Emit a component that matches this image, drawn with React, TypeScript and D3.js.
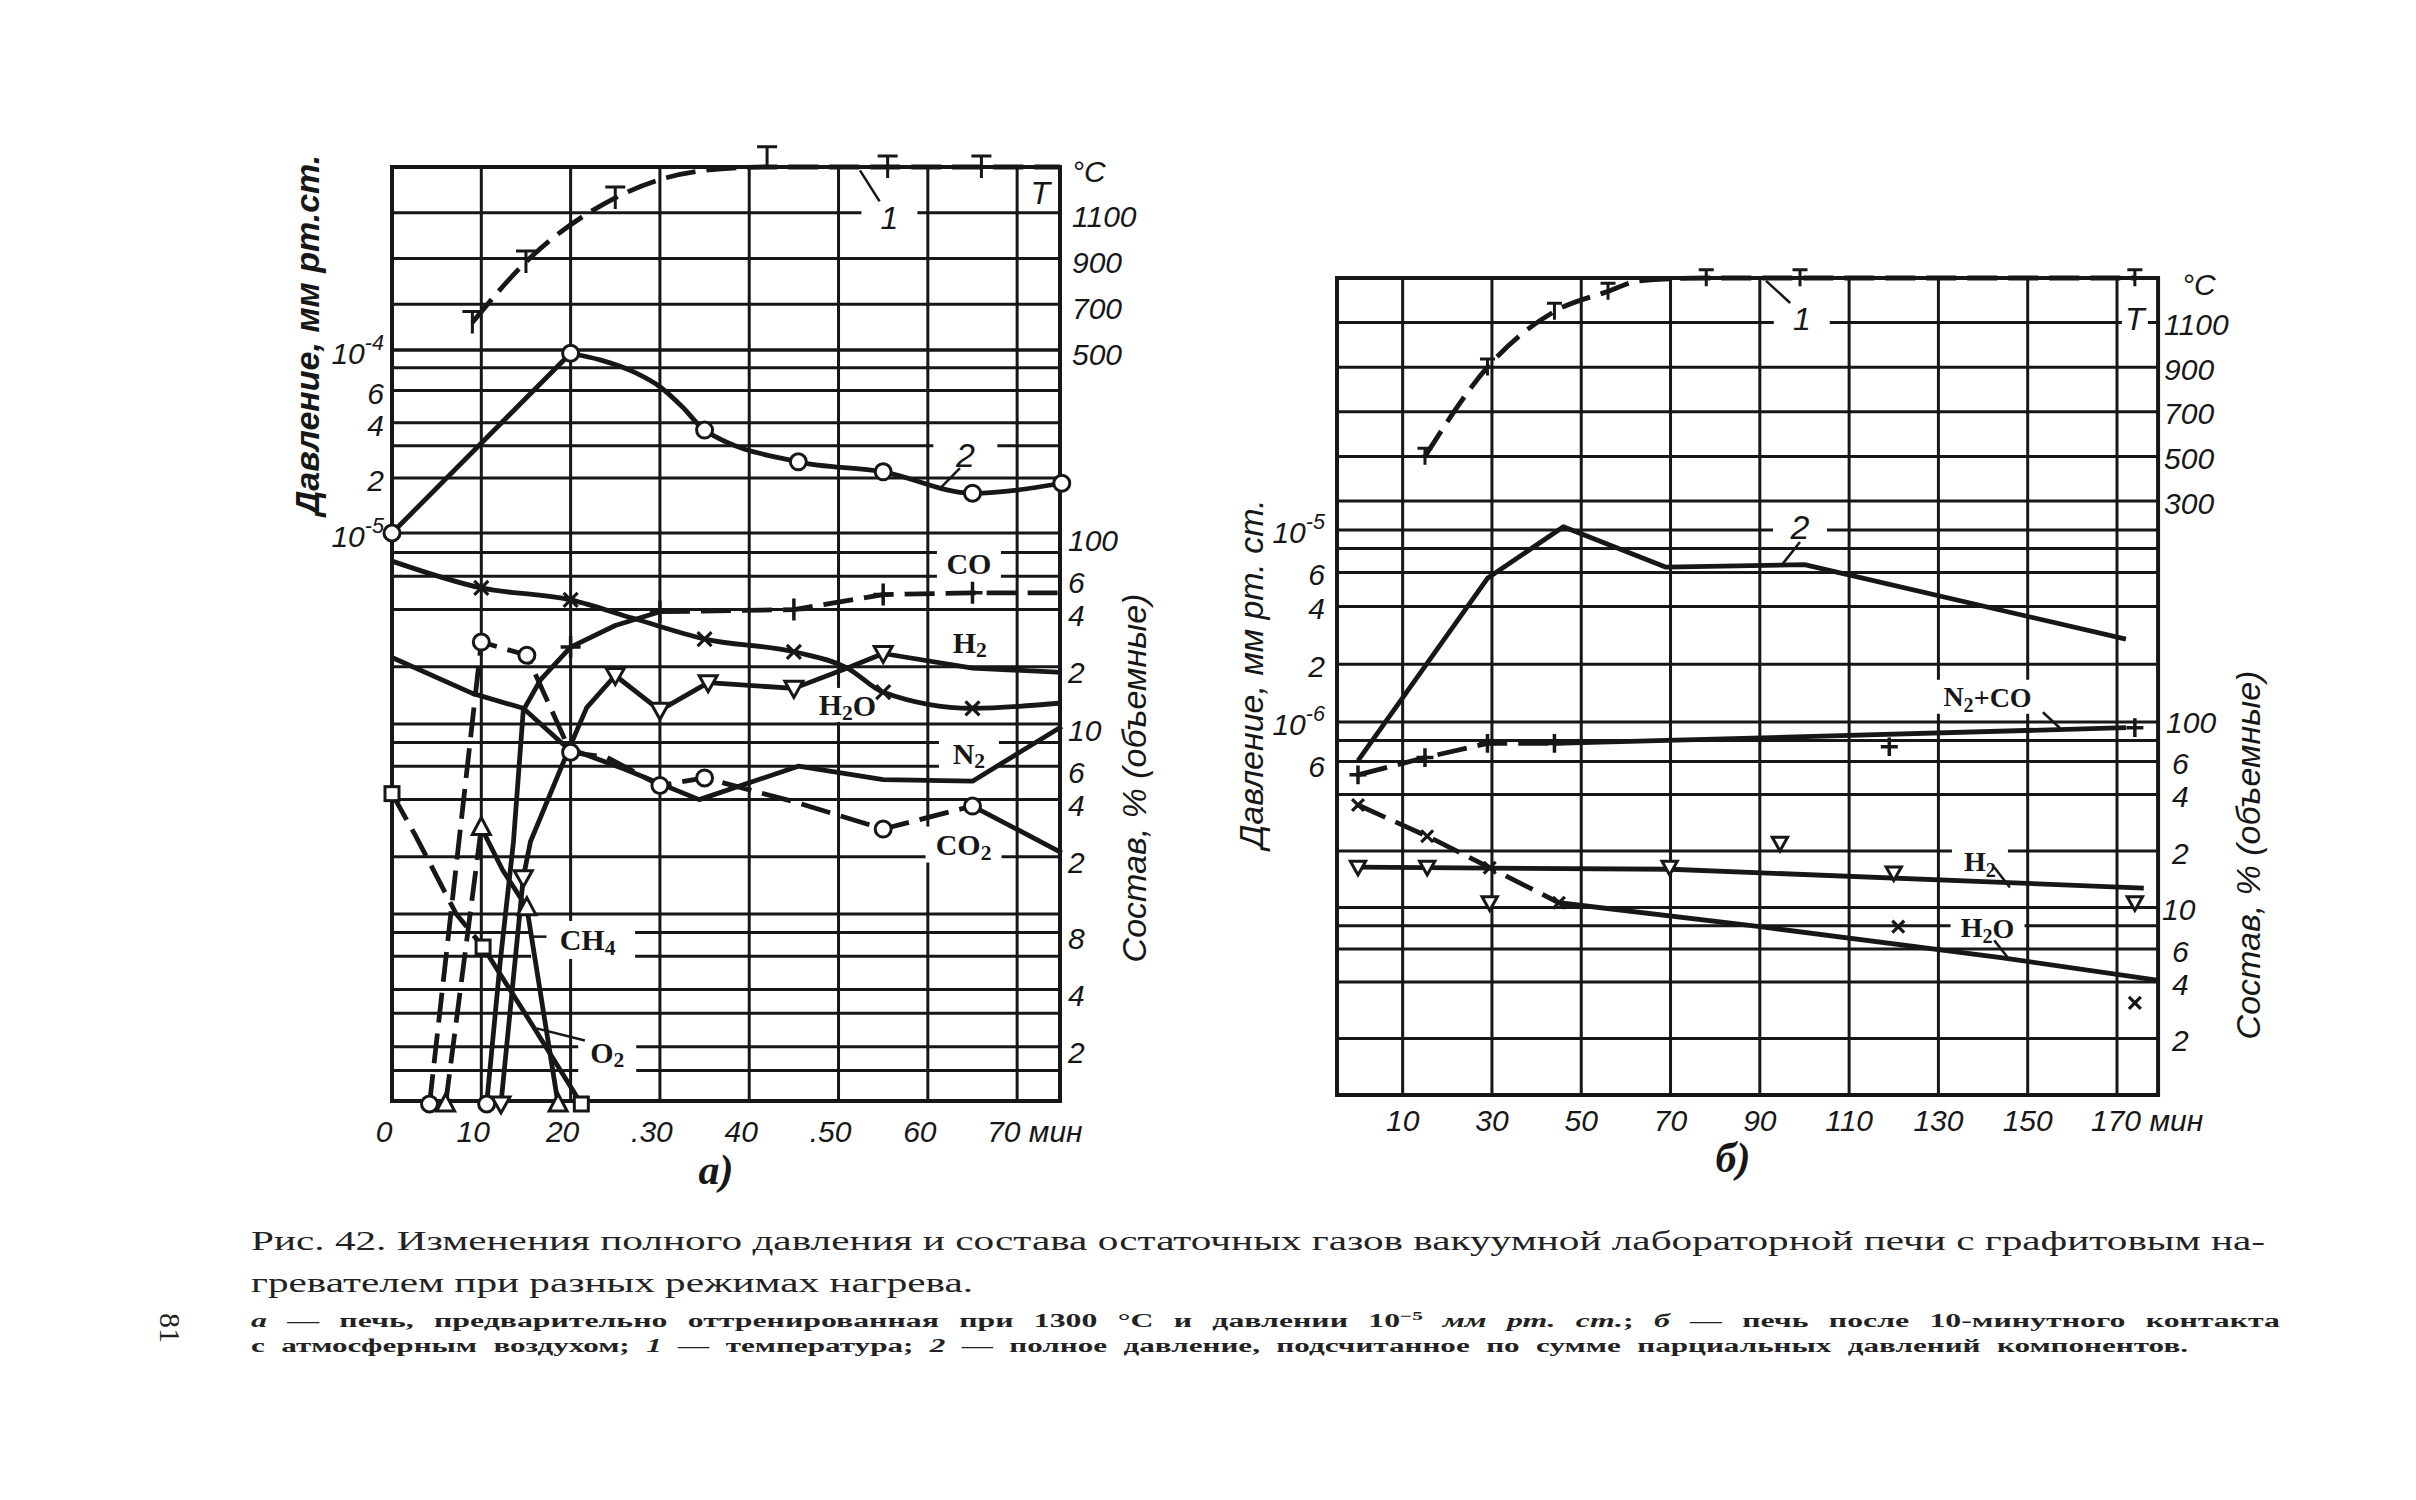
import React from 'react';
import * as d3 from 'd3';

// ================= Panel а) =================
const timeTicksA = [0, 10, 20, 30, 40, 50, 60, 70];
const timeLabelsA = ['0', '10', '20', '.30', '40', '.50', '60', '70 мин'];
const tempGridA = [1100, 900, 700, 500];
const tempTicksA = [1100, 900, 700, 500];
const pressGridA = [1e-4, 8e-5, 6e-5, 4e-5, 3e-5, 2e-5, 1e-5];
const pressTicksA = [1e-4, 6e-5, 4e-5, 2e-5, 1e-5];
const pressLabelsA = ['10|-4', '6', '4', '2', '10|-5'];
const compGridA = [80, 60, 40, 20, 10, 8, 6, 4, 2, 1, 0.8, 0.6, 0.4, 0.3, 0.2, 0.15];
const compTicksA = [100, 60, 40, 20, 10, 6, 4, 2, 0.8, 0.4, 0.2];
const compLabelsA = ['100', '6', '4', '2', '10', '6', '4', '2', '8', '4', '2'];

// 1 — temperature, °C
const tempLineA = [[9, 620], [15, 885], [25, 1165], [30, 1245], [35, 1285], [42, 1300], [74.8, 1300]];
const tempMarksA = [[9, 620], [15, 885], [25, 1165], [42, 1340], [55.5, 1300], [66, 1300]];
// 2 — total pressure, mm Hg
const pressRiseA = [[0, 1.0e-5], [20, 9.6e-5]];
const pressFallA = [[20, 9.6e-5], [23.4, 8.8e-5], [27.3, 7.5e-5], [30, 6.3e-5], [32.5, 4.9e-5], [35, 3.65e-5], [45.5, 2.45e-5], [55, 2.16e-5], [65, 1.65e-5], [75, 1.87e-5]];
const pressMarksA = [[0, 1.0e-5], [20, 9.6e-5], [35, 3.65e-5], [45.5, 2.45e-5], [55, 2.16e-5], [65, 1.65e-5], [75, 1.87e-5]];
// composition, vol. %
const coSolidA = [[10.6, 0.1], [12.1, 0.55], [13.6, 2.4], [14.7, 11.8], [16.6, 17], [20, 25.4], [25, 33], [30, 39]];
const coDashedA = [[30, 39], [45, 40], [55, 48], [65, 49], [75, 49]];
const coMarksA = [[20, 25.4], [30, 39], [45, 40], [55, 48], [65, 49]];
const coStartA = [[10.6, 0.1]];
const h2LineA = [[12.2, 0.1], [14.7, 1.55], [15.5, 2.4], [19.6, 7], [21.8, 12.2], [25, 18], [30, 11.8], [35.4, 16.5], [45, 15.4], [51, 19.7], [55, 23.5], [65, 19.7], [75, 18.7]];
const h2MarksA = [[12.2, 0.1], [14.7, 1.55], [25, 18], [30, 11.8], [35.4, 16.5], [45, 15.4], [55, 23.5]];
const h2oLineA = [[0, 72], [10, 52], [20, 45], [27, 36], [35, 28], [45, 24], [51, 19.7], [55, 14.7], [65, 12.1], [75, 12.9]];
const h2oMarksA = [[10, 52], [20, 45], [35, 28], [45, 24], [55, 14.7], [65, 12.1]];
const n2LineA = [[0, 22.4], [9, 14.5], [14.7, 12.1], [19.6, 7.5], [26, 5.8], [34.4, 4.0], [45.5, 6.0], [55, 5.1], [65, 5.0], [75, 9.7]];
const co2DashedA = [[4.2, 0.1], [10, 27], [15.1, 23], [20, 7.1], [24, 6.7], [30, 4.75], [35, 5.2], [45, 3.9], [55, 2.8], [65, 3.7]];
const co2SolidA = [[65, 3.7], [75, 2.1]];
const co2MarksA = [[4.2, 0.1], [10, 27], [15.1, 23], [20, 7.1], [30, 4.75], [35, 5.2], [55, 2.8], [65, 3.7]];
const ch4DashedA = [[6, 0.1], [10, 2.85]];
const ch4SolidA = [[10, 2.85], [12.4, 1.7], [15.1, 1.08], [18.6, 0.1]];
const ch4MarksA = [[6, 0.1], [10, 2.85], [15.1, 1.08], [18.6, 0.1]];
const o2DashedA = [[0, 4.3], [2.6, 2.6], [7.2, 1.0], [10.2, 0.67]];
const o2SolidA = [[10.2, 0.67], [15.5, 0.27], [21.2, 0.1]];
const o2MarksA = [[0, 4.3], [10.2, 0.67], [21.2, 0.1]];

// ================= Panel б) =================
const timeTicksB = [10, 30, 50, 70, 90, 110, 130, 150, 170];
const timeLabelsB = ['10', '30', '50', '70', '90', '110', '130', '150', '170 мин'];
const tempGridB = [1100, 900, 700, 500, 300];
const tempTicksB = [1100, 900, 700, 500, 300];
const pressGridB = [1e-5, 8e-6, 6e-6, 4e-6, 2e-6, 1e-6, 8e-7];
const pressTicksB = [1e-5, 6e-6, 4e-6, 2e-6, 1e-6, 6e-7];
const pressLabelsB = ['10|-5', '6', '4', '2', '10|-6', '6'];
const compGridB = [60, 40, 20, 10, 8, 6, 4, 2];
const compTicksB = [100, 60, 40, 20, 10, 6, 4, 2];
const compLabelsB = ['100', '6', '4', '2', '10', '6', '4', '2'];

const tempLineB = [[15, 500], [29, 900], [44, 1150], [56, 1240], [63, 1287], [78, 1300], [174, 1300]];
const tempMarksB = [[15, 500], [29, 900], [44, 1150], [56, 1240], [78, 1300], [99, 1300], [174, 1300]];
const pressLineB = [[0, 6.3e-7], [29, 5.6e-6], [46, 1.04e-5], [69, 6.4e-6], [100, 6.6e-6], [172, 2.7e-6]];
const n2coDashedB = [[0, 51], [15, 63], [29, 75], [44, 75]];
const n2coSolidB = [[44, 75], [96, 81], [172, 91]];
const n2coMarksB = [[0, 51], [15, 63], [29, 75], [44, 75], [119, 72], [174, 91]];
const h2LineB = [[0, 16.4], [70, 16], [176, 12.7]];
const h2MarksB = [[0, 16.4], [15.5, 16.4], [29.5, 10.6], [69.8, 16.4], [94.5, 22], [120, 15.3], [174, 10.6]];
const h2oDashedB = [[0, 35.2], [15.5, 24], [29.5, 16.3], [45, 10.6]];
const h2oSolidB = [[45, 10.6], [90, 7.9], [144, 5.4], [179, 4.1]];
const h2oMarksB = [[0, 35.2], [15.5, 24], [29.5, 16.3], [45, 10.6], [121, 7.9], [174, 3.1]];

// caption
const captionLines = [
  'Рис. 42. Изменения полного давления и состава остаточных газов  вакуумной лабораторной печи с графитовым на-',
  'гревателем при разных режимах нагрева.',
];
const noteLine3 = ['а', ' — печь,  предварительно  оттренированная  при  1300 °С  и  давлении  10', '−5', '  ', 'мм рт. ст.', ';  ', 'б', ' — печь  после  10-минутного  контакта'];
const noteLine4 = ['с атмосферным воздухом; ', '1', ' — температура; ', '2', ' — полное давление, подсчитанное по сумме парциальных давлений компонентов.'];

// ================= scales =================
const xA = d3.scaleLinear().domain([0, 74.8]).range([392, 1060]);
const tA = d3.scaleLinear().domain([500, 1300]).range([350, 167]);
const pA = d3.scaleLog().domain([1e-5, 1e-4]).range([533, 350]);
const cA = d3.scaleLog().domain([0.1, 100]).range([1104, 534]);
const FA = { l: xA(0), r: xA(74.8), t: tA(1300), b: 1101 };

const xB = d3.scaleLinear().domain([0, 170]).range([1358, 2117]);
const tB = d3.scaleLinear().domain([300, 1300]).range([501, 278]);
const pB = d3.scaleLog().domain([1e-6, 1e-5]).range([722, 530]);
const cB = d3.scaleLog().domain([1, 100]).range([1095, 720]);
const FB = { l: xB(-4.7), r: xB(179.2), t: tB(1300), b: 1095 };

const INK = '#171717';
const SANS = '"Liberation Sans", Arial, sans-serif';
const SERIF = '"Liberation Serif", "DejaVu Serif", serif';

const gen = (xs: any, ys: any, curve: any = d3.curveLinear) =>
  d3.line<any>().x((d: any) => xs(d[0])).y((d: any) => ys(d[1])).curve(curve);

function Curve({ data, xs, ys, dashed = false, curve = d3.curveLinear, w = 4.8 }: any) {
  return (
    <path d={gen(xs, ys, curve)(data) || ''} fill="none" stroke={INK} strokeWidth={w}
      strokeDasharray={dashed ? '30 11' : undefined} strokeLinejoin="round" strokeLinecap="butt" />
  );
}

function Marks({ data, xs, ys, shape, s = 1 }: any) {
  return (
    <g>
      {data.map((d: any, i: number) => {
        const x = xs(d[0]);
        const y = ys(d[1]);
        const k = `${shape}${i}`;
        if (shape === 'circle') return <circle key={k} cx={x} cy={y} r={8 * s} fill="#fff" stroke={INK} strokeWidth={3} />;
        if (shape === 'tdown') return <path key={k} d={`M${x - 9 * s},${y - 7 * s}L${x + 9 * s},${y - 7 * s}L${x},${y + 9 * s}Z`} fill="#fff" stroke={INK} strokeWidth={3} />;
        if (shape === 'tup') return <path key={k} d={`M${x - 9 * s},${y + 7 * s}L${x + 9 * s},${y + 7 * s}L${x},${y - 10 * s}Z`} fill="#fff" stroke={INK} strokeWidth={3} />;
        if (shape === 'square') return <rect key={k} x={x - 7 * s} y={y - 7 * s} width={14 * s} height={14 * s} fill="#fff" stroke={INK} strokeWidth={3} />;
        if (shape === 'plus') return <path key={k} d={`M${x - 10 * s},${y}H${x + 10 * s}M${x},${y - 11 * s}V${y + 11 * s}`} stroke={INK} strokeWidth={3.5} fill="none" />;
        if (shape === 'cross') return <path key={k} d={`M${x - 7 * s},${y - 7 * s}L${x + 7 * s},${y + 7 * s}M${x + 7 * s},${y - 7 * s}L${x - 7 * s},${y + 7 * s}`} stroke={INK} strokeWidth={3.2} fill="none" />;
        if (shape === 'T') return <path key={k} d={`M${x - 10 * s},${y - 11 * s}H${x + 10 * s}M${x},${y - 11 * s}V${y + 11 * s}`} stroke={INK} strokeWidth={3} fill="none" />;
        return null;
      })}
    </g>
  );
}

function HLines({ vals, ys, x1, x2, w = 3 }: any) {
  return <g>{vals.map((v: number, i: number) => <line key={i} x1={x1} x2={x2} y1={ys(v)} y2={ys(v)} stroke={INK} strokeWidth={w} />)}</g>;
}
function VLines({ vals, xs, y1, y2, w = 3 }: any) {
  return <g>{vals.map((v: number, i: number) => <line key={i} x1={xs(v)} x2={xs(v)} y1={y1} y2={y2} stroke={INK} strokeWidth={w} />)}</g>;
}

function Pow({ label, x, y, anchor = 'end', size = 30 }: any) {
  const [m, e] = label.split('|');
  return (
    <text x={x} y={y} textAnchor={anchor} fontFamily={SANS} fontStyle="italic" fontSize={size} fill={INK} dominantBaseline="central">
      {m}{e ? <tspan dy={-11} fontSize={size * 0.72}>{e}</tspan> : null}
    </text>
  );
}

function Bg({ x, y, w, h }: any) {
  return <rect x={x - w / 2} y={y - h / 2} width={w} height={h} fill="#fff" />;
}

function Chem({ x, y, base, sub, tail, size = 30, anchor = 'middle' }: any) {
  return (
    <text x={x} y={y} textAnchor={anchor} dominantBaseline="central" fontFamily={SERIF} fontWeight="bold" fontSize={size} fill={INK}>
      {base}
      {sub ? <tspan dy={8} fontSize={size * 0.72}>{sub}</tspan> : null}
      {tail ? <tspan dy={sub ? -8 : 0}>{tail}</tspan> : null}
    </text>
  );
}

function Leader({ a, b, xs, ys }: any) {
  return <line x1={xs(a[0])} y1={ys(a[1])} x2={xs(b[0])} y2={ys(b[1])} stroke={INK} strokeWidth={2.5} />;
}

export default function App() {
  const mono = d3.curveMonotoneX;
  return (
    <svg width={2416} height={1500} viewBox="0 0 2416 1500" style={{ position: 'absolute', left: 0, top: 0, background: '#fff' }}>
      <rect x={0} y={0} width={2416} height={1500} fill="#fff" />

      {/* ========== Panel а ========== */}
      <g>
        <VLines vals={timeTicksA.slice(1)} xs={xA} y1={FA.t} y2={FA.b} />
        <HLines vals={tempGridA} ys={tA} x1={FA.l} x2={FA.r} />
        <HLines vals={pressGridA} ys={pA} x1={FA.l} x2={FA.r} />
        <HLines vals={compGridA} ys={cA} x1={FA.l} x2={FA.r} />
        <rect x={FA.l} y={FA.t} width={FA.r - FA.l} height={FA.b - FA.t} fill="none" stroke={INK} strokeWidth={4} />

        {/* label gaps */}
        <Bg x={xA(64.6)} y={cA(70.3)} w={64} h={34} />
        <Bg x={xA(64.6)} y={cA(7.0)} w={60} h={36} />
        <Bg x={xA(64)} y={cA(2.32)} w={76} h={36} />
        <Bg x={xA(51)} y={cA(12.6)} w={70} h={34} />
        <Bg x={xA(21.4)} y={cA(0.73)} w={104} h={38} />
        <Bg x={xA(24.1)} y={cA(0.187)} w={58} h={44} />
        <Bg x={xA(55.7)} y={tA(1077)} w={56} h={34} />
        <Bg x={xA(64.2)} y={pA(2.67e-5)} w={64} h={34} />

        {/* curve 1: temperature */}
        <Curve data={tempLineA} xs={xA} ys={tA} dashed curve={mono} />
        <Marks data={tempMarksA} xs={xA} ys={tA} shape="T" />
        {/* curve 2: total pressure */}
        <Curve data={pressRiseA} xs={xA} ys={pA} />
        <Curve data={pressFallA} xs={xA} ys={pA} curve={mono} />
        <Marks data={pressMarksA} xs={xA} ys={pA} shape="circle" />

        {/* gases */}
        <Curve data={n2LineA} xs={xA} ys={cA} />
        <Curve data={h2oLineA} xs={xA} ys={cA} curve={mono} />
        <Curve data={h2LineA} xs={xA} ys={cA} />
        <Curve data={coSolidA} xs={xA} ys={cA} />
        <Curve data={coDashedA} xs={xA} ys={cA} dashed />
        <Curve data={co2DashedA} xs={xA} ys={cA} dashed />
        <Curve data={co2SolidA} xs={xA} ys={cA} />
        <Curve data={ch4DashedA} xs={xA} ys={cA} dashed />
        <Curve data={ch4SolidA} xs={xA} ys={cA} />
        <Curve data={o2DashedA} xs={xA} ys={cA} dashed />
        <Curve data={o2SolidA} xs={xA} ys={cA} />

        <Marks data={h2oMarksA} xs={xA} ys={cA} shape="cross" />
        <Marks data={coMarksA} xs={xA} ys={cA} shape="plus" />
        <Marks data={coStartA} xs={xA} ys={cA} shape="circle" />
        <Marks data={h2MarksA} xs={xA} ys={cA} shape="tdown" />
        <Marks data={co2MarksA} xs={xA} ys={cA} shape="circle" />
        <Marks data={ch4MarksA} xs={xA} ys={cA} shape="tup" />
        <Marks data={o2MarksA} xs={xA} ys={cA} shape="square" />

        {/* leaders */}
        <Leader a={[52.4, 1285]} b={[54.6, 1150]} xs={xA} ys={tA} />
        <Leader a={[61.4, 1.76e-5]} b={[63.6, 2.26e-5]} xs={xA} ys={pA} />
        <Leader a={[16.2, 0.25]} b={[21.6, 0.216]} xs={xA} ys={cA} />
        <Leader a={[15.5, 0.76]} b={[17.3, 0.76]} xs={xA} ys={cA} />

        {/* series labels */}
        <Chem x={xA(64.6)} y={cA(70.3)} base="CO" />
        <Chem x={xA(64.7)} y={cA(27)} base="H" sub="2" />
        <Chem x={xA(51)} y={cA(12.6)} base="H" sub="2" tail="O" />
        <Chem x={xA(64.6)} y={cA(7.0)} base="N" sub="2" />
        <Chem x={xA(64)} y={cA(2.32)} base="CO" sub="2" />
        <Chem x={xA(21.9)} y={cA(0.73)} base="CH" sub="4" />
        <Chem x={xA(24.1)} y={cA(0.187)} base="O" sub="2" />
        <text x={xA(55.7)} y={tA(1077)} textAnchor="middle" dominantBaseline="central" fontFamily={SANS} fontStyle="italic" fontSize={32} fill={INK}>1</text>
        <text x={xA(64.2)} y={pA(2.67e-5)} textAnchor="middle" dominantBaseline="central" fontFamily={SANS} fontStyle="italic" fontSize={34} fill={INK}>2</text>
        <text x={xA(72.6)} y={tA(1186)} textAnchor="middle" dominantBaseline="central" fontFamily={SANS} fontStyle="italic" fontSize={32} fill={INK}>T</text>

        {/* left ticks: pressure */}
        {pressTicksA.map((v, i) => <Pow key={i} label={pressLabelsA[i]} x={FA.l - 8} y={pA(v) + 3} />)}
        {/* right ticks: temperature & composition */}
        <text x={FA.r + 12} y={FA.t + 4} dominantBaseline="central" fontFamily={SANS} fontStyle="italic" fontSize={30} fill={INK}>°C</text>
        {tempTicksA.map((v, i) => <text key={i} x={FA.r + 12} y={tA(v) + 4} dominantBaseline="central" fontFamily={SANS} fontStyle="italic" fontSize={30} fill={INK}>{v}</text>)}
        {compTicksA.map((v, i) => <text key={i} x={FA.r + 8} y={cA(v) + 6} dominantBaseline="central" fontFamily={SANS} fontStyle="italic" fontSize={30} fill={INK}>{compLabelsA[i]}</text>)}
        {/* bottom ticks */}
        {timeTicksA.map((v, i) => (
          <text key={i} x={xA(v) - (i === 7 ? 30 : 8)} y={1142} textAnchor={i === 7 ? 'start' : 'middle'} fontFamily={SANS} fontStyle="italic" fontSize={30} fill={INK}>{timeLabelsA[i]}</text>
        ))}
        <text x={716} y={1184} textAnchor="middle" fontFamily={SERIF} fontStyle="italic" fontWeight="bold" fontSize={42} fill={INK}>а)</text>
        {/* axis titles */}
        <text transform={`translate(${FA.l - 85},${335}) rotate(-90)`} textAnchor="middle" dominantBaseline="central" fontFamily={SANS} fontStyle="italic" fontWeight="bold" fontSize={34} fill={INK}>Давление, мм рт.ст.</text>
        <text transform={`translate(${FA.r + 74},${778}) rotate(-90)`} textAnchor="middle" dominantBaseline="central" fontFamily={SANS} fontStyle="italic" fontSize={34} fill={INK}>Состав, % (объемные)</text>
      </g>

      {/* ========== Panel б ========== */}
      <g>
        <VLines vals={timeTicksB} xs={xB} y1={FB.t} y2={FB.b} />
        <HLines vals={tempGridB} ys={tB} x1={FB.l} x2={FB.r} />
        <HLines vals={pressGridB} ys={pB} x1={FB.l} x2={FB.r} />
        <HLines vals={compGridB} ys={cB} x1={FB.l} x2={FB.r} />
        <rect x={FB.l} y={FB.t} width={FB.r - FB.l} height={FB.b - FB.t} fill="none" stroke={INK} strokeWidth={4} />

        <Bg x={xB(99.4)} y={tB(1116)} w={56} h={34} />
        <Bg x={xB(99)} y={pB(1.036e-5)} w={54} h={34} />
        <Bg x={xB(141)} y={cB(133)} w={112} h={34} />
        <Bg x={xB(139.3)} y={cB(17.5)} w={56} h={34} />
        <Bg x={xB(141)} y={cB(7.78)} w={74} h={34} />
        <Bg x={xB(174)} y={tB(1118)} w={26} h={34} />

        <Curve data={tempLineB} xs={xB} ys={tB} dashed curve={mono} />
        <Marks data={tempMarksB} xs={xB} ys={tB} shape="T" s={0.75} />
        <Curve data={pressLineB} xs={xB} ys={pB} />

        <Curve data={n2coDashedB} xs={xB} ys={cB} dashed />
        <Curve data={n2coSolidB} xs={xB} ys={cB} />
        <Curve data={h2LineB} xs={xB} ys={cB} />
        <Curve data={h2oDashedB} xs={xB} ys={cB} dashed />
        <Curve data={h2oSolidB} xs={xB} ys={cB} curve={mono} />
        <Marks data={n2coMarksB} xs={xB} ys={cB} shape="plus" s={0.85} />
        <Marks data={h2MarksB} xs={xB} ys={cB} shape="tdown" s={0.85} />
        <Marks data={h2oMarksB} xs={xB} ys={cB} shape="cross" s={0.85} />

        <Leader a={[91.4, 1287]} b={[96.8, 1188]} xs={xB} ys={tB} />
        <Leader a={[95.2, 6.7e-6]} b={[99, 8.66e-6]} xs={xB} ys={pB} />
        <Leader a={[153.4, 110]} b={[157.2, 90.6]} xs={xB} ys={cB} />
        <Leader a={[142.5, 16.4]} b={[146, 12.8]} xs={xB} ys={cB} />
        <Leader a={[142.5, 6.68]} b={[145.4, 5.46]} xs={xB} ys={cB} />

        <text x={xB(99.4)} y={tB(1116)} textAnchor="middle" dominantBaseline="central" fontFamily={SANS} fontStyle="italic" fontSize={32} fill={INK}>1</text>
        <text x={xB(99)} y={pB(1.036e-5)} textAnchor="middle" dominantBaseline="central" fontFamily={SANS} fontStyle="italic" fontSize={34} fill={INK}>2</text>
        <text x={xB(174)} y={tB(1118)} textAnchor="middle" dominantBaseline="central" fontFamily={SANS} fontStyle="italic" fontSize={32} fill={INK}>T</text>
        <Chem x={xB(141)} y={cB(133)} base="N" sub="2" tail="+CO" size={28} />
        <Chem x={xB(139.3)} y={cB(17.5)} base="H" sub="2" size={28} />
        <Chem x={xB(141)} y={cB(7.78)} base="H" sub="2" tail="O" size={28} />

        {pressTicksB.map((v, i) => <Pow key={i} label={pressLabelsB[i]} x={FB.l - 12} y={pB(v) + 2} />)}
        <text x={FB.r + 24} y={FB.t + 6} dominantBaseline="central" fontFamily={SANS} fontStyle="italic" fontSize={30} fill={INK}>°C</text>
        {tempTicksB.map((v, i) => <text key={i} x={FB.r + 6} y={tB(v) + 2} dominantBaseline="central" fontFamily={SANS} fontStyle="italic" fontSize={30} fill={INK}>{v}</text>)}
        {compTicksB.map((v, i) => <text key={i} x={FB.r + (i === 0 ? 8 : i === 4 ? 4 : 14)} y={cB(v) + 2} dominantBaseline="central" fontFamily={SANS} fontStyle="italic" fontSize={30} fill={INK}>{compLabelsB[i]}</text>)}
        {timeTicksB.map((v, i) => (
          <text key={i} x={xB(v) - (i === 8 ? 26 : 0)} y={1131} textAnchor={i === 8 ? 'start' : 'middle'} fontFamily={SANS} fontStyle="italic" fontSize={30} fill={INK}>{timeLabelsB[i]}</text>
        ))}
        <text x={1733} y={1172} textAnchor="middle" fontFamily={SERIF} fontStyle="italic" fontWeight="bold" fontSize={42} fill={INK}>б)</text>
        <text transform={`translate(${FB.l - 86},${674}) rotate(-90)`} textAnchor="middle" dominantBaseline="central" fontFamily={SANS} fontStyle="italic" fontSize={34} fill={INK}>Давление, мм рт. ст.</text>
        <text transform={`translate(${FB.r + 90},${855}) rotate(-90)`} textAnchor="middle" dominantBaseline="central" fontFamily={SANS} fontStyle="italic" fontSize={34} fill={INK}>Состав, % (объемные)</text>
      </g>

      {/* ========== Caption ========== */}
      <g fill="#222" fontFamily={SERIF}>
        <text x={251} y={1250} fontSize={28} textLength={2014} lengthAdjust="spacingAndGlyphs">{captionLines[0]}</text>
        <text x={251} y={1292} fontSize={28} textLength={722} lengthAdjust="spacingAndGlyphs">{captionLines[1]}</text>
        <text x={251} y={1327} fontSize={18} fontWeight="bold" wordSpacing={7} textLength={2029} lengthAdjust="spacingAndGlyphs">
          <tspan fontStyle="italic">{noteLine3[0]}</tspan>{noteLine3[1]}<tspan dy={-7} fontSize={12}>{noteLine3[2]}</tspan><tspan dy={7}>{noteLine3[3]}</tspan><tspan fontStyle="italic">{noteLine3[4]}</tspan>{noteLine3[5]}<tspan fontStyle="italic">{noteLine3[6]}</tspan>{noteLine3[7]}
        </text>
        <text x={251} y={1352} fontSize={18} fontWeight="bold" wordSpacing={5} textLength={1937} lengthAdjust="spacingAndGlyphs">
          {noteLine4[0]}<tspan fontStyle="italic">{noteLine4[1]}</tspan>{noteLine4[2]}<tspan fontStyle="italic">{noteLine4[3]}</tspan>{noteLine4[4]}
        </text>
        <text transform="translate(170,1328) rotate(90)" textAnchor="middle" dominantBaseline="central" fontSize={30}>81</text>
      </g>
    </svg>
  );
}
